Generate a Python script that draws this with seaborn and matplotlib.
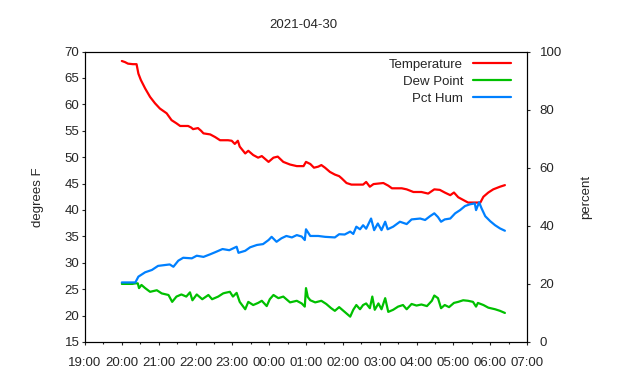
import matplotlib
matplotlib.use('Agg')
import matplotlib.pyplot as plt
import matplotlib.dates as mdates
import pandas as pd
import seaborn as sns

# readings, evening of 04-29 into the morning of 04-30
temp_times = ['20:00', '20:05', '20:10', '20:18', '20:24', '20:27', '20:31', '20:38', '20:46', '20:54',
              '21:02', '21:13', '21:21', '21:29', '21:35', '21:48', '21:53', '21:56', '22:04', '22:09',
              '22:13', '22:24', '22:32', '22:40', '22:53', '22:59', '23:04', '23:09', '23:12', '23:21',
              '23:26', '23:34', '23:42', '23:48', '23:59', '00:07', '00:14', '00:23', '00:34', '00:45',
              '00:56', '01:00', '01:07', '01:13', '01:20', '01:25', '01:31', '01:39', '01:47', '01:54',
              '01:58', '02:06', '02:14', '02:33', '02:38', '02:44', '02:50', '02:58', '03:06', '03:14',
              '03:20', '03:36', '03:44', '03:55', '04:08', '04:19', '04:29', '04:38', '04:46', '04:55',
              '05:01', '05:08', '05:16', '05:24', '05:44', '05:49', '05:57', '06:05', '06:16', '06:24']
temp_vals = [68.2, 68.0, 67.7, 67.6, 67.6, 65.8, 64.6, 63.0, 61.4, 60.2,
             59.2, 58.3, 57.0, 56.4, 55.9, 55.9, 55.6, 55.3, 55.5, 55.0,
             54.5, 54.3, 53.8, 53.2, 53.2, 53.1, 52.5, 53.1, 52.0, 50.7,
             51.2, 50.4, 49.9, 50.2, 49.1, 49.9, 50.1, 49.1, 48.6, 48.3,
             48.3, 49.1, 48.7, 48.0, 48.2, 48.5, 48.0, 47.2, 46.7, 46.4,
             46.0, 45.1, 44.8, 44.8, 45.3, 44.4, 44.9, 45.0, 45.1, 44.6,
             44.1, 44.1, 43.9, 43.4, 43.4, 43.1, 43.9, 43.8, 43.3, 42.8,
             43.3, 42.4, 41.9, 41.4, 41.4, 42.5, 43.3, 43.9, 44.4, 44.7]

dew_times = ['20:00', '20:17', '20:22', '20:26', '20:28', '20:32', '20:38', '20:46', '20:57', '21:05',
             '21:16', '21:22', '21:29', '21:37', '21:45', '21:51', '21:55', '22:02', '22:11', '22:21',
             '22:27', '22:37', '22:45', '22:48', '22:56', '23:01', '23:07', '23:12', '23:21', '23:26',
             '23:34', '23:42', '23:48', '23:56', '00:01', '00:07', '00:15', '00:23', '00:34', '00:45',
             '00:53', '00:58', '01:00', '01:03', '01:07', '01:15', '01:25', '01:33', '01:41', '01:47',
             '01:54', '02:03', '02:12', '02:17', '02:22', '02:28', '02:33', '02:38', '02:44', '02:48',
             '02:52', '02:58', '03:03', '03:09', '03:14', '03:22', '03:30', '03:38', '03:44', '03:52',
             '04:00', '04:08', '04:17', '04:25', '04:29', '04:35', '04:40', '04:46', '04:53', '05:01',
             '05:08', '05:16', '05:24', '05:32', '05:37', '05:40', '05:49', '05:57', '06:08', '06:16',
             '06:24']
dew_vals = [26.0, 26.0, 26.1, 26.1, 25.2, 25.8, 25.2, 24.5, 24.8, 24.2,
            23.9, 22.6, 23.6, 24.0, 23.6, 24.4, 22.9, 24.0, 23.1, 23.9,
            23.1, 23.6, 24.2, 24.3, 24.5, 23.6, 24.3, 22.6, 21.2, 22.6,
            22.0, 22.4, 22.8, 21.8, 23.1, 23.9, 23.3, 23.6, 22.5, 22.8,
            22.3, 21.7, 25.2, 23.5, 22.9, 22.5, 22.8, 22.2, 21.4, 20.9,
            21.6, 20.7, 19.8, 21.1, 22.0, 21.2, 22.0, 22.3, 21.4, 23.6,
            21.1, 22.3, 21.2, 23.3, 20.7, 21.1, 21.7, 22.0, 21.2, 22.2,
            21.9, 22.1, 21.8, 22.8, 23.8, 23.3, 21.4, 22.0, 21.6, 22.4,
            22.6, 22.9, 22.8, 22.6, 21.7, 22.4, 22.0, 21.5, 21.2, 20.9,
            20.5]

hum_times = ['20:00', '20:22', '20:27', '20:38', '20:49', '20:59', '21:18', '21:24', '21:32', '21:40',
             '21:54', '22:02', '22:13', '22:24', '22:32', '22:44', '22:55', '22:59', '23:07', '23:10',
             '23:21', '23:29', '23:40', '23:50', '23:59', '00:04', '00:12', '00:20', '00:28', '00:37',
             '00:45', '00:53', '00:58', '01:00', '01:07', '01:20', '01:31', '01:47', '01:54', '02:03',
             '02:12', '02:17', '02:22', '02:28', '02:33', '02:38', '02:46', '02:51', '02:57', '03:03',
             '03:09', '03:13', '03:22', '03:33', '03:44', '03:52', '04:06', '04:14', '04:22', '04:29',
             '04:35', '04:40', '04:46', '04:55', '05:03', '05:11', '05:19', '05:27', '05:35', '05:37',
             '05:42', '05:46', '05:52', '06:00', '06:08', '06:16', '06:24']
hum_vals = [20.5, 20.5, 22.5, 24.0, 24.8, 26.2, 26.7, 25.9, 28.0, 29.0,
            28.8, 29.7, 29.3, 30.2, 30.9, 32.0, 31.6, 32.0, 32.8, 30.7,
            31.4, 32.6, 33.4, 33.7, 35.1, 36.2, 34.5, 35.7, 36.5, 36.0,
            36.8, 36.3, 35.1, 38.8, 36.5, 36.5, 36.2, 36.0, 37.1, 37.0,
            38.0, 37.2, 39.7, 38.8, 40.2, 39.0, 42.5, 38.5, 40.8, 38.5,
            41.4, 38.8, 39.7, 41.4, 40.6, 42.2, 42.5, 42.0, 43.3, 44.3,
            43.0, 41.4, 42.2, 42.5, 44.3, 45.4, 46.8, 47.4, 47.7, 45.4,
            48.1, 46.0, 43.3, 41.6, 40.2, 39.1, 38.3]

series_labels = ['Temperature', 'Dew Point', 'Pct Hum']
series_colors = ['#ff0000', '#00c000', '#0080ff']


def to_dt(times):
    """HH:MM strings -> timestamps, evening hours belong to the previous day"""
    out = []
    for t in times:
        day = '2021-04-29' if int(t[:2]) >= 12 else '2021-04-30'
        out.append(pd.Timestamp(f'{day} {t}'))
    return out


sns.set_style('white')
plt.rcParams['font.family'] = ['Liberation Sans', 'DejaVu Sans']
plt.rcParams['font.size'] = 9.5

fig = plt.figure(figsize=(6.4, 3.8), dpi=100)
ax = fig.add_axes([85 / 640, 1 - 342 / 380, 442 / 640, 290.5 / 380])
ax2 = ax.twinx()

sns.lineplot(x=to_dt(temp_times), y=temp_vals, ax=ax, color=series_colors[0], lw=1.6, legend=False)
sns.lineplot(x=to_dt(dew_times), y=dew_vals, ax=ax, color=series_colors[1], lw=1.6, legend=False)
sns.lineplot(x=to_dt(hum_times), y=hum_vals, ax=ax2, color=series_colors[2], lw=1.6, legend=False)

ax.set_xlim(pd.Timestamp('2021-04-29 19:00'), pd.Timestamp('2021-04-30 07:00'))
ax.set_ylim(15, 70)
ax.set_yticks(range(15, 71, 5))
ax2.set_ylim(0, 100)
ax2.set_yticks(range(0, 101, 20))

ax.xaxis.set_major_locator(mdates.HourLocator(interval=1))
ax.xaxis.set_minor_locator(mdates.MinuteLocator(byminute=[30]))
ax.xaxis.set_major_formatter(mdates.DateFormatter('%H:%M'))

for a in (ax, ax2):
    for sp in a.spines.values():
        sp.set_color('black')
        sp.set_linewidth(0.8)
ax.tick_params(axis='x', which='major', bottom=True, direction='out', length=2.5, width=0.8, pad=8)
ax.tick_params(axis='x', which='minor', bottom=True, direction='out', length=1.3, width=0.8)
ax.tick_params(axis='y', left=True, direction='out', length=2.5, width=0.8, pad=1.5)
ax2.tick_params(axis='y', right=True, direction='out', length=2.5, width=0.8, pad=6.5)

ax.set_xlabel('')
ax.set_ylabel('degrees F')
ax.yaxis.set_label_coords((44 - 85) / 442, 0.5)
ax2.set_ylabel('percent')
ax2.yaxis.set_label_coords((580 - 85) / 442, 0.5)

fig.text(303 / 640, 1 - 25 / 380, '2021-04-30', ha='center', va='center')

# markerfirst=False right-aligns the rows, so label ends line up in front of the samples
handles = [ax.lines[0], ax.lines[1], ax2.lines[0]]
ax2.legend(handles, series_labels, loc='upper right', bbox_to_anchor=(0.963, 0.975),
           frameon=False, markerfirst=False, handlelength=2.85, handletextpad=0.75,
           labelspacing=0.35, borderpad=0, borderaxespad=0)

fig.savefig('out.png', dpi=100)
